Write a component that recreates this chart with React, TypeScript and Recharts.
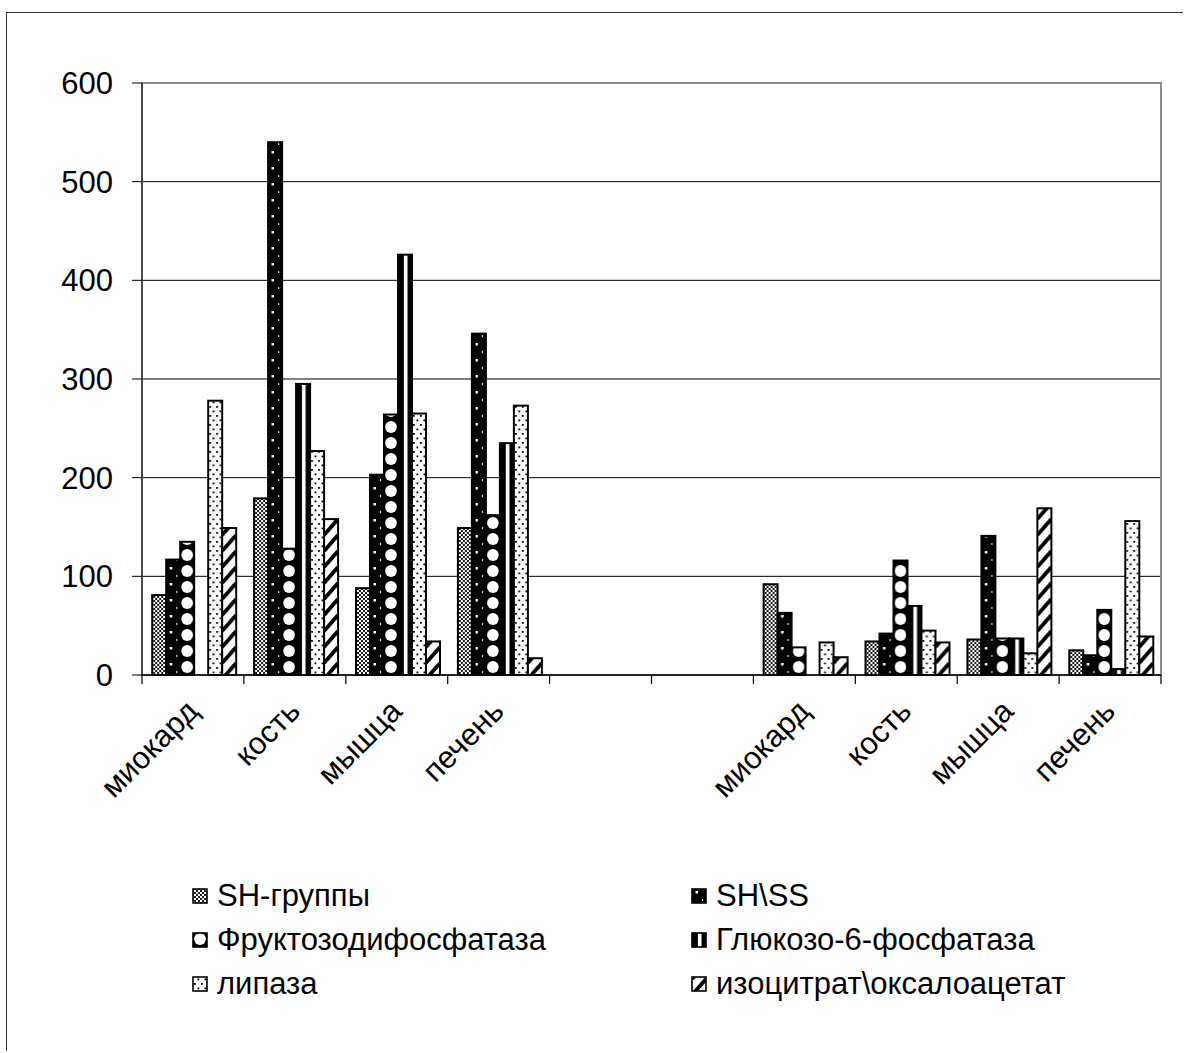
import React, { JSX } from "react";
import {
  Bar,
  BarChart,
  CartesianGrid,
  Legend,
  ReferenceArea,
  XAxis,
  YAxis,
} from "recharts";

const categories = ["миокард", "кость", "мышца", "печень", "", "", "миокард", "кость", "мышца", "печень"];

const shGroups = [81, 179, 88, 149, null, null, 92, 34, 36, 25];
const shSs = [117, 540, 203, 346, null, null, 63, 42, 141, 20];
const fructose = [135, 128, 264, 162, null, null, 28, 116, 37, 66];
const glucose = [null, 295, 426, 235, null, null, null, 70, 37, 6];
const lipase = [278, 227, 265, 273, null, null, 33, 45, 22, 156];
const isocitrate = [149, 158, 34, 17, null, null, 18, 33, 169, 39];

const yTicks = [0, 100, 200, 300, 400, 500, 600];

type Kind = "cross" | "darkDots" | "circles" | "stripe" | "dots" | "diag";

const series: { key: string; name: string; kind: Kind; values: (number | null)[] }[] = [
  { key: "sh", name: "SH-группы", kind: "cross", values: shGroups },
  { key: "shss", name: "SH\\SS", kind: "darkDots", values: shSs },
  { key: "fru", name: "Фруктозодифосфатаза", kind: "circles", values: fructose },
  { key: "glu", name: "Глюкозо-6-фосфатаза", kind: "stripe", values: glucose },
  { key: "lip", name: "липаза", kind: "dots", values: lipase },
  { key: "iso", name: "изоцитрат\\оксалоацетат", kind: "diag", values: isocitrate },
];

const data = categories.map((c, i) => {
  const row: Record<string, number | string | null> = { idx: i, name: c };
  series.forEach((s) => (row[s.key] = s.values[i]));
  return row;
});

const FONT = "'Liberation Sans', Arial, sans-serif";
const FONT_SIZE = 31;
const CHART_W = 1184;
const CHART_H = 1053;
const MARGIN = { top: 83, right: 23, bottom: 258, left: 0 };
const Y_W = 142;
const BAND = (CHART_W - MARGIN.left - MARGIN.right - Y_W) / categories.length;

// one pattern per bar, anchored to the bar's left edge and bottom
function patternFor(kind: Kind, id: string, x: number, bottom: number, w: number) {
  const common = { id, patternUnits: "userSpaceOnUse" as const, x, y: bottom };
  switch (kind) {
    case "cross":
      return (
        <pattern {...common} width={4} height={4}>
          <rect width={4} height={4} fill="#fff" />
          <path d="M0,0 L4,4 M4,0 L0,4" stroke="#000" strokeWidth={0.9} />
        </pattern>
      );
    case "darkDots":
      return (
        <pattern {...common} width={w} height={16}>
          <rect width={w} height={16} fill="#000" />
          <rect x={w * 0.25} y={4} width={2.5} height={2.5} fill="#fff" />
          <rect x={w * 0.72} y={12} width={1} height={2} fill="#fff" />
        </pattern>
      );
    case "circles":
      return (
        <pattern {...common} width={w} height={16}>
          <rect width={w} height={16} fill="#000" />
          <circle cx={w / 2} cy={8} r={w * 0.42} fill="#fff" />
        </pattern>
      );
    case "stripe":
      return (
        <pattern {...common} width={w} height={10}>
          <rect width={w} height={10} fill="#000" />
          <rect x={w * 0.42} width={w * 0.26} height={10} fill="#fff" />
        </pattern>
      );
    case "dots":
      return (
        <pattern {...common} width={7} height={9}>
          <rect width={7} height={9} fill="#fff" />
          <rect x={1} y={1} width={1.8} height={1.8} fill="#000" />
          <rect x={4.5} y={5.5} width={1.8} height={1.8} fill="#000" />
        </pattern>
      );
    case "diag":
      return (
        <pattern {...common} width={w} height={16}>
          <rect width={w} height={16} fill="#fff" />
          <path d={`M0,20 L${w},4 M0,4 L${w},-12`} stroke="#000" strokeWidth={3.8} />
        </pattern>
      );
  }
}

function PatternBar(props: any) {
  const { x, y, width, height, kind, uid, sw = 2 } = props;
  if (!height || height <= 0) return null;
  const id = `${uid}`;
  return (
    <g>
      <defs>{patternFor(kind, id, x, y + height, width)}</defs>
      <rect x={x} y={y} width={width} height={height} fill={`url(#${id})`} stroke="#000" strokeWidth={sw} />
    </g>
  );
}

function CategoryTick(props: any) {
  const { x, y, payload, index } = props;
  const label = categories[payload.value] ?? "";
  const last = index === categories.length - 1;
  return (
    <g>
      <line x1={x - BAND / 2} x2={x - BAND / 2} y1={y} y2={y + 9} stroke="#000" strokeWidth={1.2} />
      {last && <line x1={x + BAND / 2} x2={x + BAND / 2} y1={y} y2={y + 9} stroke="#000" strokeWidth={1.2} />}
      {label && (
        <text
          transform={`translate(${x + 7},${y + 38}) rotate(-45)`}
          textAnchor="end"
          fontSize={FONT_SIZE}
          fontFamily={FONT}
          fill="#000"
        >
          {label}
        </text>
      )}
    </g>
  );
}

function SeriesLegend(): JSX.Element {
  return (
    <div
      style={{
        display: "grid",
        gridTemplateColumns: "499px 480px",
        fontFamily: FONT,
        fontSize: FONT_SIZE,
        lineHeight: "44px",
        color: "#000",
      }}
    >
      {series.map((s) => (
        <div key={s.key} style={{ display: "flex", alignItems: "center", whiteSpace: "nowrap" }}>
          <svg width={17} height={17} style={{ marginLeft: 2, marginRight: 8 }}>
            <PatternBar x={1} y={1} width={14} height={14} kind={s.kind} uid={`lg-${s.key}`} sw={1.6} />
          </svg>
          <span>{s.name}</span>
        </div>
      ))}
    </div>
  );
}

export default function App(): JSX.Element {
  return (
    <div>
      <div
        style={{
          position: "absolute",
          left: 6,
          top: 12,
          width: 1176,
          height: 1038,
          borderTop: "1.5px solid #333",
          borderLeft: "1.5px solid #333",
        }}
      />
      <div style={{ position: "absolute", left: 0, top: 0 }}>
        <BarChart
          width={CHART_W}
          height={CHART_H}
          data={data}
          margin={MARGIN}
          barCategoryGap="10%"
          barGap={0}
        >
          <CartesianGrid vertical={false} stroke="#000" strokeWidth={1} />
          <ReferenceArea y1={0} y2={600} fill="none" stroke="#8a8a8a" strokeWidth={2} ifOverflow="visible" />
          <XAxis
            dataKey="idx"
            type="category"
            interval={0}
            height={120}
            tickSize={0}
            tickMargin={0}
            tickLine={false}
            axisLine={{ stroke: "#000", strokeWidth: 1.5 }}
            tick={<CategoryTick />}
          />
          <YAxis
            width={Y_W}
            domain={[0, 600]}
            ticks={yTicks}
            interval={0}
            tickSize={10}
            tickMargin={19}
            axisLine={{ stroke: "#333", strokeWidth: 1.5 }}
            tickLine={{ stroke: "#000" }}
            tick={{ fontSize: FONT_SIZE, fontFamily: FONT, fill: "#000" }}
          />
          <Legend
            layout="horizontal"
            verticalAlign="middle"
            align="center"
            content={<SeriesLegend />}
            wrapperStyle={{ left: 190, top: 874, width: 1000, height: 132 }}
          />
          {series.map((s) => (
            <Bar
              key={s.key}
              dataKey={s.key}
              name={s.name}
              isAnimationActive={false}
              shape={(p: any) => <PatternBar {...p} kind={s.kind} uid={`${s.key}-${p.index}`} />}
            />
          ))}
        </BarChart>
      </div>
    </div>
  );
}
